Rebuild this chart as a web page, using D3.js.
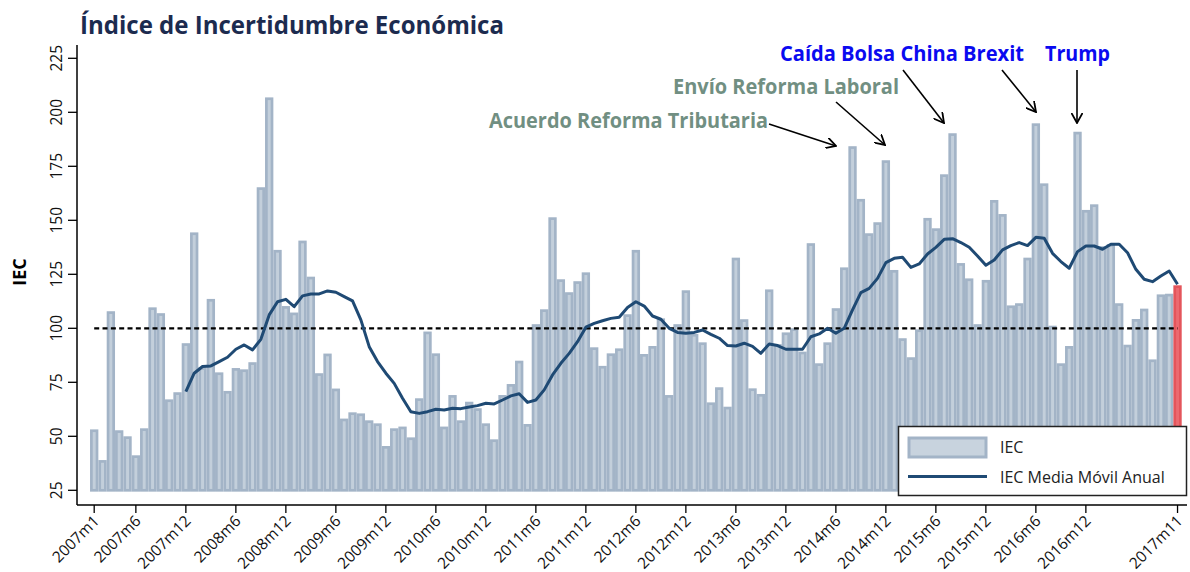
<!DOCTYPE html>
<html><head><meta charset="utf-8">
<script src="https://cdnjs.cloudflare.com/ajax/libs/d3/7.8.5/d3.min.js"></script>
<style>body{margin:0;background:#fff}svg{display:block}text{font-family:"Open Sans",sans-serif}</style>
</head><body><svg id="c" width="1190" height="572"></svg>
<script>
const years = [2007,2008,2009,2010,2011,2012,2013,2014,2015,2016,2017];
const months = [];
years.forEach(y => { for (let m = 1; m <= 12; m++) { if (y === 2017 && m > 11) break; months.push(y + "m" + m); } });
const iec = [
 53.2,39,107.9,52.8,50,41.2,53.7,109.7,107,67.1,70.4,93.1,
 144.4,82,113.6,79.6,71,81.6,81,84.3,165.3,206.9,136.3,110.3,
 107.3,140.6,123.9,79.2,88.3,72.1,58.2,61.1,60.6,57.4,56,45.5,
 53.7,54.5,49.5,67.6,98.5,88.4,54.5,69.1,57.4,66,63,56,
 48.6,69.1,74.2,85,55.7,101.9,108.8,151.4,122.7,116.7,121.8,125.9,
 91.2,82.6,88.4,90.7,106.5,136.3,88.1,91.8,104.6,69.1,101.9,117.6,
 97.4,93.5,65.7,72.7,63.7,132.7,104.2,72.2,69.6,118,92.7,98.1,
 100,89.2,139.4,83.8,93.5,109.3,128.2,184.3,159.9,144,149.1,177.8,
 127,95.4,86.6,99.5,151.1,146.3,171.3,190.3,130.2,123.1,101.9,122.4,
 159.4,152.9,110.6,111.6,132.7,194.9,167.1,101.2,83.8,91.8,191,154.8,
 157.4,138,139,111.6,92.4,104.3,109.1,85.6,115.7,116,119.9];
const maStart = "2007m12";
const ma = [
 70.7,
 79.2,82.3,82.6,84.6,86.6,90.3,92.3,90,94.9,106.2,112.3,113.4,
 110,115,115.9,115.9,117.3,116.7,114.7,112.7,103.9,91.5,84.6,79.2,
 74.5,67.6,61.4,60.6,61.4,62.5,62.2,63,62.8,63.6,64.2,65.3,
 65,66.8,68.7,69.7,65.7,66.8,71.5,78.4,83.8,88.4,93.8,100.5,
 102.3,103.5,104.6,105.1,109.6,112.3,110.3,105.7,104.2,100,98.1,97.7,
 98.1,99.2,97.2,95.4,92,91.8,93.1,91.6,88.4,92.7,92,90.3,
 90.3,90.3,96.1,97.4,100,97.7,100,108.5,116.5,118.5,123.1,130.4,
 132.4,132.9,128.2,129.8,134.4,137.5,141.2,141.5,139.7,137.5,133.5,129.2,
 131.6,136.3,138.3,139.7,138.3,142.1,141.7,134.7,130.9,127.8,135.5,138.1,
 138.1,136.6,138.9,138.9,135,127.3,122.7,121.6,124.2,126.5,120.4];
const xTicks = ["2007m1","2007m6","2007m12","2008m6","2008m12","2009m6","2009m12","2010m6","2010m12","2011m6","2011m12","2012m6","2012m12","2013m6","2013m12","2014m6","2014m12","2015m6","2015m12","2016m6","2016m12","2017m11"];
const yTicks = [25,50,75,100,125,150,175,200,225];
const reference = 100;
const legendLabels = ["IEC","IEC Media Móvil Anual"];
const annotations = [
 {text:"Acuerdo Reforma Tributaria", color:"#718f82"},
 {text:"Envío Reforma Laboral", color:"#718f82"},
 {text:"Caída Bolsa China Brexit", color:"#0a0af0"},
 {text:"Trump", color:"#0a0af0"}];

const svg = d3.select("#c");
const x = d3.scaleBand().domain(months).range([90.03, 1181.7]).padding(0);
const cx = m => x(m) + x.bandwidth()/2;
const y = d3.scaleLinear().domain([25,225]).range([490.3, 58.3]);
const axisY = 505, axisX = 77;

// bars
const bw = x.bandwidth();
svg.append("g").selectAll("rect").data(months).join("rect")
  .attr("x", (m) => cx(m) - (bw - 2.7)/2)
  .attr("width", bw - 2.7)
  .attr("y", (m,i) => y(iec[i]) + 1.35)
  .attr("height", (m,i) => y(25) - y(iec[i]) - 1.35)
  .attr("fill", (m,i) => i === months.length-1 ? "#ec6a70" : "#c3cfdb")
  .attr("stroke", (m,i) => i === months.length-1 ? "#e4555b" : "#a3b4c7")
  .attr("stroke-width", 2.7);

// reference line
svg.append("line").attr("x1", cx(months[0])).attr("x2", cx(months[months.length-1]))
  .attr("y1", y(reference)).attr("y2", y(reference))
  .attr("stroke","#000").attr("stroke-width",2.2).attr("stroke-dasharray","5,3.33");

// moving average
const startIdx = months.indexOf(maStart);
const line = d3.line().x((d,i) => cx(months[startIdx+i])).y(d => y(d));
svg.append("path").datum(ma).attr("d", line).attr("fill","none")
  .attr("stroke","#1f4a74").attr("stroke-width",3).attr("stroke-linejoin","round");

// axes
const gy = svg.append("g").attr("transform",`translate(${axisX},0)`);
gy.append("line").attr("y1",45).attr("y2",axisY).attr("stroke","#000").attr("stroke-width",1.5);
gy.selectAll(".t").data(yTicks).join("line").attr("x1",-9).attr("x2",0)
  .attr("y1",d=>y(d)).attr("y2",d=>y(d)).attr("stroke","#000").attr("stroke-width",1.3);
gy.selectAll("text").data(yTicks).join("text")
  .attr("transform", d => `translate(-15,${y(d)}) rotate(-90)`)
  .attr("text-anchor","middle").attr("font-size",15.5).attr("fill","#111").text(d=>d);

const gx = svg.append("g");
gx.append("line").attr("x1",axisX).attr("x2",1187).attr("y1",axisY).attr("y2",axisY).attr("stroke","#000").attr("stroke-width",1.5);
gx.selectAll(".t").data(xTicks).join("line").attr("x1",d=>cx(d)).attr("x2",d=>cx(d))
  .attr("y1",axisY).attr("y2",axisY+8).attr("stroke","#000").attr("stroke-width",1.3);
gx.selectAll("text").data(xTicks).join("text")
  .attr("transform", d => `translate(${cx(d)+6},${axisY+17}) rotate(-45)`)
  .attr("text-anchor","end").attr("font-size",15.5).attr("fill","#111").text(d=>d);

// y label
svg.append("text").attr("transform","translate(26,272) rotate(-90)").attr("text-anchor","middle")
  .attr("font-size",18).attr("font-weight","bold").attr("fill","#000").text("IEC");

// title
svg.append("text").attr("x",80).attr("y",34).attr("font-size",24.5).attr("font-weight","bold")
  .attr("fill","#1c2b4f").attr("textLength",424).attr("lengthAdjust","spacingAndGlyphs")
  .text("Índice de Incertidumbre Económica");

// annotations
const defs = svg.append("defs");
defs.append("marker").attr("id","ah").attr("viewBox","0 0 10 10").attr("refX",9).attr("refY",5)
  .attr("markerWidth",7).attr("markerHeight",7).attr("orient","auto")
  .append("path").attr("d","M0,0 L9,5 L0,10").attr("fill","none").attr("stroke","#000").attr("stroke-width",1.6);
const annPos = [
 {x1:489,x2:768,y:128, arrows:[[769,124,836,146]]},
 {x1:673,x2:899,y:94, arrows:[[836,102,885,145]]},
 {x1:780,x2:1024,y:61, arrows:[[903,70,944,123],[1002,70,1036,112]]},
 {x1:1045,x2:1110,y:61, arrows:[[1077,70,1077,123]]}];
annotations.forEach((a,i) => {
  const p = annPos[i];
  svg.append("text").attr("x",p.x1).attr("y",p.y).attr("font-size",20.5).attr("font-weight","bold")
    .attr("fill",a.color).attr("textLength",p.x2-p.x1).attr("lengthAdjust","spacingAndGlyphs").text(a.text);
  p.arrows.forEach(r => svg.append("line").attr("x1",r[0]).attr("y1",r[1]).attr("x2",r[2]).attr("y2",r[3])
    .attr("stroke","#000").attr("stroke-width",1.6).attr("marker-end","url(#ah)"));
});

// legend
const lg = svg.append("g");
lg.append("rect").attr("x",898.5).attr("y",426.5).attr("width",288).attr("height",69)
  .attr("fill","#fff").attr("stroke","#222").attr("stroke-width",1.5);
lg.append("rect").attr("x",909).attr("y",438).attr("width",77).attr("height",19)
  .attr("fill","#c8d3de").attr("stroke","#a3b4c7").attr("stroke-width",3);
lg.append("line").attr("x1",908).attr("x2",987).attr("y1",476.5).attr("y2",476.5)
  .attr("stroke","#1f4a74").attr("stroke-width",3);
lg.selectAll(".lt").data(legendLabels).join("text").attr("x",1000).attr("y",(d,i)=>453+i*30)
  .attr("font-size",16).attr("fill","#222").text(d=>d);
</script></body></html>
